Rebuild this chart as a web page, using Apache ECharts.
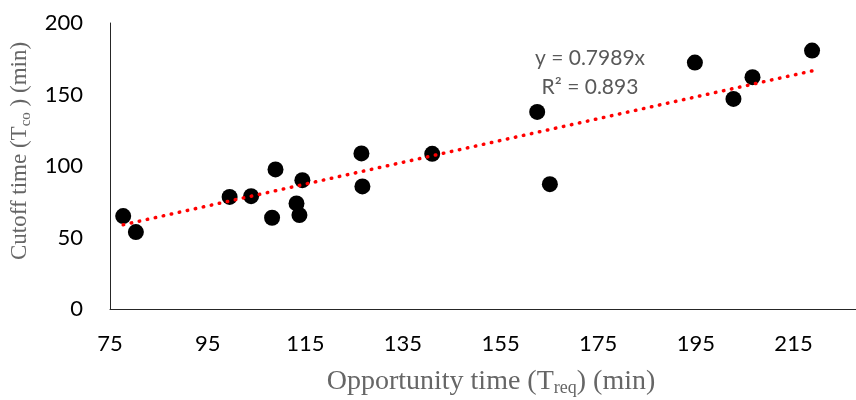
<!DOCTYPE html>
<html>
<head>
<meta charset="utf-8">
<script src="https://cdn.jsdelivr.net/npm/echarts@6/dist/echarts.min.js"></script>
<style>
  html, body { margin: 0; padding: 0; background: #fff; }
  #chart { width: 856px; height: 400px; }
</style>
</head>
<body>
<div id="chart"></div>
<script>
// Data
const opportunityTime = [77.7, 80.3, 99.5, 103.9, 108.9, 108.2, 114.4, 113.2, 113.8, 126.5, 126.7, 141.0, 162.5, 165.1, 194.8, 202.7, 206.6, 218.8];
const cutoffTime      = [65.0, 53.8, 78.4, 78.9, 97.6, 63.8, 90.1, 73.8, 65.7, 108.8, 85.7, 108.5, 137.8, 87.3, 172.3, 146.9, 162.1, 180.7];
const trendX = [77.7, 218.8];
const trendY = [58.9, 166.5];
const xTicks = [75, 95, 115, 135, 155, 175, 195, 215];
const yTicks = [0, 50, 100, 150, 200];
const equationText = 'y = 0.7989x';
const r2Text = 'R² = 0.893';

const points = opportunityTime.map((x, i) => [x, cutoffTime[i]]);
const trend = trendX.map((x, i) => [x, trendY[i]]);

const chart = echarts.init(document.getElementById('chart'), null, { renderer: 'canvas' });
const tickFont = { fontFamily: 'Lato', fontSize: 22, color: '#000' };
const titleColor = '#666';
chart.setOption({
  animation: false,
  backgroundColor: '#fff',
  grid: { left: 110, right: 0, top: 23, bottom: 91, containLabel: false, outerBoundsMode: 'none' },
  xAxis: {
    type: 'value',
    min: 75,
    max: 227.8,
    axisLine: { show: true, lineStyle: { color: '#262626', width: 1 } },
    axisTick: { show: false },
    splitLine: { show: false },
    axisLabel: Object.assign({ margin: 24, customValues: xTicks }, tickFont),
    name: '{m|Opportunity time (T}{s|req}{m|) (min)}',
    nameLocation: 'middle',
    nameGap: 57,
    nameTextStyle: {
      padding: [0, 0, 0, 16],
      rich: {
        m: { fontFamily: 'Liberation Serif', fontSize: 28, color: titleColor, lineHeight: 31 },
        s: { fontFamily: 'Liberation Serif', fontSize: 18, color: titleColor, lineHeight: 31, verticalAlign: 'bottom', padding: [10, 0, 0, 0] }
      }
    }
  },
  yAxis: {
    type: 'value',
    min: 0,
    max: 200,
    interval: 50,
    axisLine: { show: true, lineStyle: { color: '#262626', width: 1 } },
    axisTick: { show: false },
    splitLine: { show: false },
    axisLabel: Object.assign({ margin: 27, customValues: yTicks }, tickFont),
    name: '{m|Cutoff time (T}{s|co}{m| ) (min)}',
    nameLocation: 'middle',
    nameRotate: 90,
    nameGap: 74,
    nameTextStyle: {
      padding: [0, 0, 0, 30],
      rich: {
        m: { fontFamily: 'Liberation Serif', fontSize: 23, color: titleColor, lineHeight: 28 },
        s: { fontFamily: 'Liberation Serif', fontSize: 15, color: titleColor, lineHeight: 28, verticalAlign: 'bottom', padding: [9, 0, 0, 0] }
      }
    }
  },
  series: [
    {
      type: 'scatter',
      data: points,
      symbol: 'circle',
      symbolSize: 16,
      itemStyle: { color: '#000', opacity: 1 },
      z: 2
    },
    {
      type: 'line',
      data: trend,
      symbol: 'none',
      lineStyle: { color: '#ff0000', width: 3.5, type: [0.5, 7.7], cap: 'round' },
      z: 3
    }
  ],
  graphic: [
    {
      type: 'text',
      x: 590,
      y: 44,
      style: {
        text: equationText + '\n' + r2Text,
        fontFamily: 'Lato',
        fontSize: 21,
        lineHeight: 29,
        fill: '#595959',
        align: 'center',
        verticalAlign: 'top'
      }
    }
  ]
});
</script>
</body>
</html>
